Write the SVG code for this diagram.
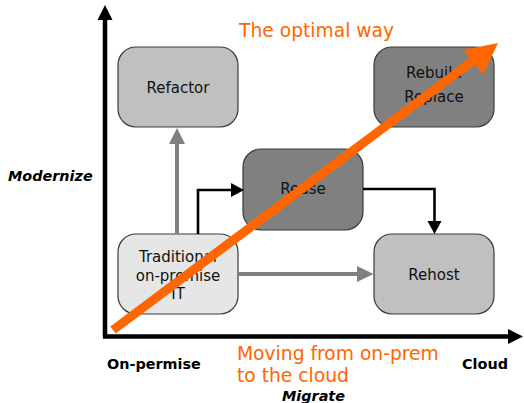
<svg xmlns="http://www.w3.org/2000/svg" width="524" height="403" viewBox="0 0 524 403">
  <style>
    .box { stroke: #3a3a3a; stroke-width: 1.2; }
    .light { fill: #e6e6e6; }
    .mid { fill: #c0c0c0; }
    .dark { fill: #808080; }
    .lbl { font-family: "DejaVu Sans", sans-serif; font-size: 15px; fill: #111; text-anchor: middle; }
    .axis { font-family: "DejaVu Sans", sans-serif; font-size: 14.4px; font-weight: bold; fill: #000; }
    .orange { font-family: "DejaVu Sans", sans-serif; font-size: 18.7px; fill: #ff6600; }
    .gray { stroke: #808080; stroke-width: 4; fill: none; }
    .blk { stroke: #000; stroke-width: 2.6; fill: none; }
  </style>

  <!-- axes -->
  <g id="axes">
    <line x1="105" y1="18" x2="105" y2="337" stroke="#000" stroke-width="4.5"/>
    <polygon points="105,5 97.5,20 112.5,20" fill="#000"/>
    <line x1="103" y1="336.5" x2="510" y2="336.5" stroke="#000" stroke-width="4.5"/>
    <polygon points="523,336.5 508,329 508,344" fill="#000"/>
    <text class="axis" x="8" y="181" font-style="italic">Modernize</text>
    <text class="axis" x="107" y="369">On-permise</text>
    <text class="axis" x="462" y="369">Cloud</text>
    <text class="axis" x="282" y="401" font-style="italic">Migrate</text>
  </g>

  <!-- nodes -->
  <g id="refactor">
    <rect class="box mid" x="118" y="47" width="120" height="80" rx="18"/>
    <text class="lbl" x="178" y="93">Refactor</text>
  </g>
  <g id="rebuild">
    <rect class="box dark" x="374" y="47" width="120" height="80" rx="18"/>
    <text class="lbl" x="434" y="78">Rebuild</text>
    <text class="lbl" x="434" y="102">Replace</text>
  </g>
  <g id="reuse">
    <rect class="box dark" x="243" y="149" width="120" height="81" rx="18"/>
    <text class="lbl" x="303" y="194">Reuse</text>
  </g>
  <g id="traditional">
    <rect class="box light" x="118" y="234" width="120" height="80" rx="18"/>
    <text class="lbl" x="178" y="262">Traditional</text>
    <text class="lbl" x="178" y="281">on-premise</text>
    <text class="lbl" x="178" y="299">IT</text>
  </g>
  <g id="rehost">
    <rect class="box mid" x="374" y="234" width="120" height="80" rx="18"/>
    <text class="lbl" x="434" y="280">Rehost</text>
  </g>

  <!-- connectors -->
  <g id="connectors">
    <line class="gray" x1="177" y1="234" x2="177" y2="143"/>
    <polygon points="177,128 169,144 185,144" fill="#808080"/>
    <line class="gray" x1="238" y1="274" x2="358" y2="274"/>
    <polygon points="373.5,274 357,266 357,282" fill="#808080"/>
    <polyline class="blk" points="198,234 198,190 233,190"/>
    <polygon points="244,190 231,183 231,197" fill="#000"/>
    <polyline class="blk" points="363,189 434.5,189 434.5,223"/>
    <polygon points="434.5,234 427.5,221 441.5,221" fill="#000"/>
  </g>

  <!-- the optimal way -->
  <g id="optimal-way">
    <line x1="113" y1="330" x2="478" y2="57" stroke="#ff6600" stroke-width="9"/>
    <polygon points="498,43 463.5,50 483,74.5" fill="#ff6600"/>
    <text class="orange" x="239" y="36.5">The optimal way</text>
    <text class="orange" x="237" y="360">Moving from on-prem</text>
    <text class="orange" x="237" y="382">to the cloud</text>
  </g>
</svg>
